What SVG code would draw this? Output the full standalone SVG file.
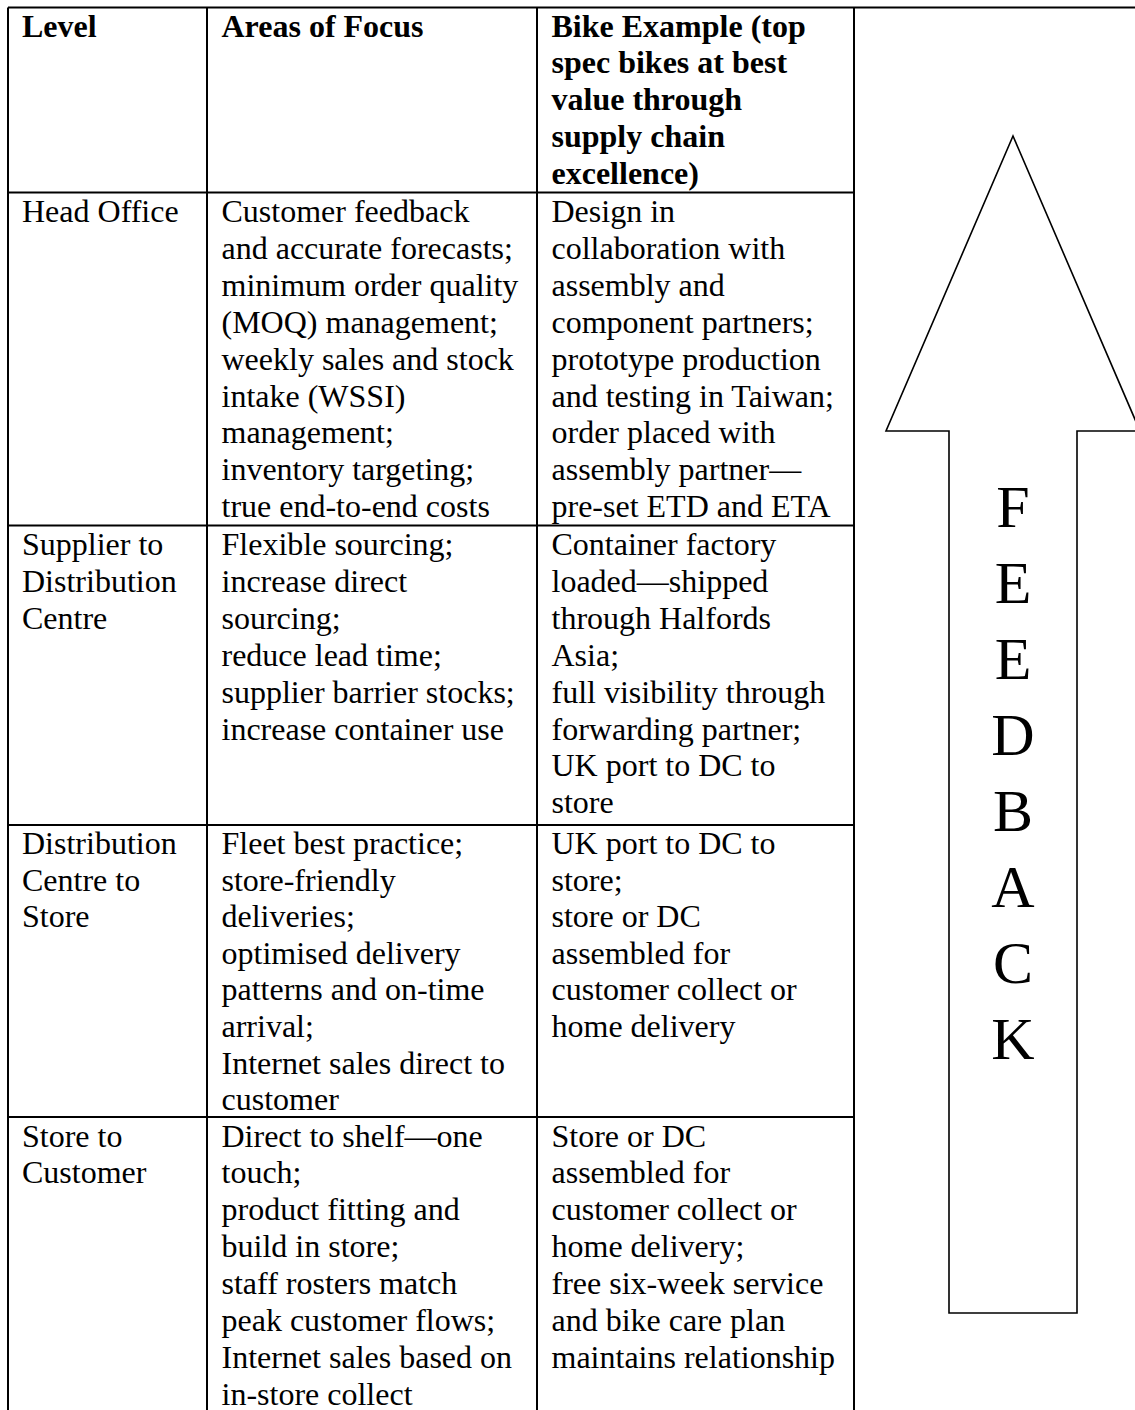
<svg xmlns="http://www.w3.org/2000/svg" width="1135" height="1410" viewBox="0 0 1135 1410">
<style>
.t{font-family:"Liberation Serif","Times New Roman",serif;font-size:32px;fill:#000}
.b{font-weight:bold}
.fb{font-family:"Liberation Serif","Times New Roman",serif;font-size:60px;fill:#000;text-anchor:middle}
.ln{stroke:#000;stroke-width:2;fill:none}
</style>
<rect width="1135" height="1410" fill="#fff"/>
<g id="connectors">
<path class="ln" d="M8,7.5H1135M8,192.5H854M8,525.5H854M8,825H854M8,1117H854M8,7.5V1410M207,7.5V1410M537,7.5V1410M854,7.5V1410"/>
</g>
<g id="arrow">
<polygon points="1013,136 1140,431 1077,431 1077,1313 949,1313 949,431 886,431" fill="#fff" stroke="#000" stroke-width="1.6" stroke-linejoin="miter"/>
<text class="fb"><tspan x="1013" y="527">F</tspan><tspan x="1013" y="603">E</tspan><tspan x="1013" y="679">E</tspan><tspan x="1013" y="755">D</tspan><tspan x="1013" y="831">B</tspan><tspan x="1013" y="907">A</tspan><tspan x="1013" y="983">C</tspan><tspan x="1013" y="1059">K</tspan></text>
</g>
<g id="header">
<text class="t b" x="22" y="36.5">Level</text>
<text class="t b" x="221.5" y="36.5">Areas of Focus</text>
<text class="t b"><tspan x="551.5" y="36.5">Bike Example (top</tspan><tspan x="551.5" y="73.4">spec bikes at best</tspan><tspan x="551.5" y="110.3">value through</tspan><tspan x="551.5" y="147.2">supply chain</tspan><tspan x="551.5" y="184.1">excellence)</tspan></text>
</g>
<g id="row-head-office">
<text class="t" x="22" y="222">Head Office</text>
<text class="t"><tspan x="221.5" y="222">Customer feedback</tspan><tspan x="221.5" y="258.9">and accurate forecasts;</tspan><tspan x="221.5" y="295.8">minimum order quality</tspan><tspan x="221.5" y="332.7">(MOQ) management;</tspan><tspan x="221.5" y="369.6">weekly sales and stock</tspan><tspan x="221.5" y="406.5">intake (WSSI)</tspan><tspan x="221.5" y="443.4">management;</tspan><tspan x="221.5" y="480.3">inventory targeting;</tspan><tspan x="221.5" y="517.2">true end-to-end costs</tspan></text>
<text class="t"><tspan x="551.5" y="222">Design in</tspan><tspan x="551.5" y="258.9">collaboration with</tspan><tspan x="551.5" y="295.8">assembly and</tspan><tspan x="551.5" y="332.7">component partners;</tspan><tspan x="551.5" y="369.6">prototype production</tspan><tspan x="551.5" y="406.5">and testing in Taiwan;</tspan><tspan x="551.5" y="443.4">order placed with</tspan><tspan x="551.5" y="480.3">assembly partner—</tspan><tspan x="551.5" y="517.2">pre-set ETD and ETA</tspan></text>
</g>
<g id="row-supplier-dc">
<text class="t"><tspan x="22" y="555">Supplier to</tspan><tspan x="22" y="591.9">Distribution</tspan><tspan x="22" y="628.8">Centre</tspan></text>
<text class="t"><tspan x="221.5" y="555">Flexible sourcing;</tspan><tspan x="221.5" y="591.9">increase direct</tspan><tspan x="221.5" y="628.8">sourcing;</tspan><tspan x="221.5" y="665.7">reduce lead time;</tspan><tspan x="221.5" y="702.6">supplier barrier stocks;</tspan><tspan x="221.5" y="739.5">increase container use</tspan></text>
<text class="t"><tspan x="551.5" y="555">Container factory</tspan><tspan x="551.5" y="591.9">loaded—shipped</tspan><tspan x="551.5" y="628.8">through Halfords</tspan><tspan x="551.5" y="665.7">Asia;</tspan><tspan x="551.5" y="702.6">full visibility through</tspan><tspan x="551.5" y="739.5">forwarding partner;</tspan><tspan x="551.5" y="776.4">UK port to DC to</tspan><tspan x="551.5" y="813.3">store</tspan></text>
</g>
<g id="row-dc-store">
<text class="t"><tspan x="22" y="854">Distribution</tspan><tspan x="22" y="890.6">Centre to</tspan><tspan x="22" y="927.2">Store</tspan></text>
<text class="t"><tspan x="221.5" y="854">Fleet best practice;</tspan><tspan x="221.5" y="890.6">store-friendly</tspan><tspan x="221.5" y="927.2">deliveries;</tspan><tspan x="221.5" y="963.8">optimised delivery</tspan><tspan x="221.5" y="1000.4">patterns and on-time</tspan><tspan x="221.5" y="1037">arrival;</tspan><tspan x="221.5" y="1073.6">Internet sales direct to</tspan><tspan x="221.5" y="1110.2">customer</tspan></text>
<text class="t"><tspan x="551.5" y="854">UK port to DC to</tspan><tspan x="551.5" y="890.6">store;</tspan><tspan x="551.5" y="927.2">store or DC</tspan><tspan x="551.5" y="963.8">assembled for</tspan><tspan x="551.5" y="1000.4">customer collect or</tspan><tspan x="551.5" y="1037">home delivery</tspan></text>
</g>
<g id="row-store-customer">
<text class="t"><tspan x="22" y="1146.5">Store to</tspan><tspan x="22" y="1183.4">Customer</tspan></text>
<text class="t"><tspan x="221.5" y="1146.5">Direct to shelf—one</tspan><tspan x="221.5" y="1183.4">touch;</tspan><tspan x="221.5" y="1220.3">product fitting and</tspan><tspan x="221.5" y="1257.2">build in store;</tspan><tspan x="221.5" y="1294.1">staff rosters match</tspan><tspan x="221.5" y="1331">peak customer flows;</tspan><tspan x="221.5" y="1367.9">Internet sales based on</tspan><tspan x="221.5" y="1404.8">in-store collect</tspan></text>
<text class="t"><tspan x="551.5" y="1146.5">Store or DC</tspan><tspan x="551.5" y="1183.4">assembled for</tspan><tspan x="551.5" y="1220.3">customer collect or</tspan><tspan x="551.5" y="1257.2">home delivery;</tspan><tspan x="551.5" y="1294.1">free six-week service</tspan><tspan x="551.5" y="1331">and bike care plan</tspan><tspan x="551.5" y="1367.9">maintains relationship</tspan></text>
</g>
</svg>
